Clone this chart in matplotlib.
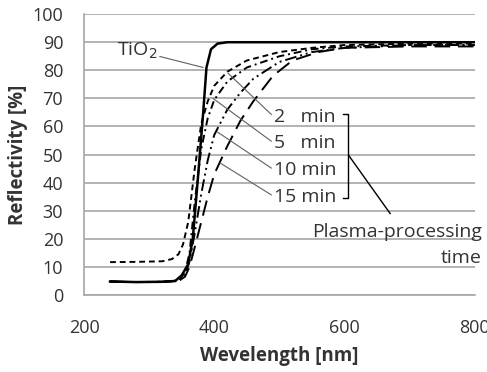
import matplotlib
matplotlib.use("Agg")
import matplotlib.pyplot as plt
import numpy as np

plt.rcParams['font.family'] = ['Open Sans', 'DejaVu Sans']

# reflectivity spectra
wl_tio2 = [240, 280, 320, 340, 350, 360, 367, 375, 383, 388, 395, 405, 420, 500, 600, 700, 800]
r_tio2 = [4.8, 4.6, 4.7, 5.0, 7.0, 11, 20, 42, 65, 81, 87.5, 89.5, 90, 90, 90, 90, 90]

wl_2 = [240, 280, 320, 335, 345, 352, 360, 370, 380, 390, 400, 420, 450, 500, 550, 600, 700, 800]
r_2 = [11.7, 11.8, 12, 12.8, 14.5, 18, 26, 45, 61, 69, 74.5, 79.5, 83.5, 86.5, 88, 89, 89.5, 89.5]

wl_5 = [240, 280, 320, 345, 355, 362, 370, 380, 390, 400, 420, 450, 500, 550, 600, 700, 800]
r_5 = [4.8, 4.6, 4.7, 5.2, 8, 15, 33, 52, 63, 69.5, 76, 81, 85, 87.5, 88.5, 89, 89]

wl_10 = [240, 280, 320, 345, 355, 362, 370, 380, 390, 400, 420, 440, 460, 500, 550, 600, 700, 800]
r_10 = [4.8, 4.6, 4.7, 5.0, 7, 12, 22, 36, 48, 57, 66, 72, 77, 83, 86.5, 88, 89, 89]

wl_15 = [240, 280, 320, 345, 355, 362, 370, 380, 390, 400, 420, 440, 460, 490, 520, 560, 600, 700, 800]
r_15 = [4.8, 4.6, 4.7, 5.0, 6.5, 10, 17, 26, 35, 43, 53, 62, 69, 78, 83.5, 86.5, 88, 88.5, 88.5]

labels = ["2   min", "5   min", "10 min", "15 min"]

txt = '#333333'
grid = '#a6a6a6'

fig = plt.figure(figsize=(4.87, 3.72), dpi=100)
ax = fig.add_axes([0.1725, 0.207, 0.8025, 0.755])

ax.plot(wl_tio2, r_tio2, color='black', lw=1.8, ls='-')
ax.plot(wl_2, r_2, color='black', lw=1.4, ls=(0, (3, 2)))
ax.plot(wl_5, r_5, color='black', lw=1.4, ls=(0, (4, 2, 1, 2)))
ax.plot(wl_10, r_10, color='black', lw=1.4, ls=(0, (6, 2, 1, 2, 1, 2)))
ax.plot(wl_15, r_15, color='black', lw=1.4, ls=(0, (8, 4)))

ax.set_xlim(200, 800)
ax.set_ylim(0, 100)
ax.set_xticks([200, 400, 600, 800])
ax.set_yticks(np.arange(0, 101, 10))
ax.yaxis.grid(True, color=grid, lw=1.2)
ax.set_axisbelow(True)
for s in ['top', 'right']:
    ax.spines[s].set_visible(False)
ax.spines['left'].set_color(grid)
ax.spines['bottom'].set_color(grid)
ax.spines['left'].set_linewidth(1.2)
ax.spines['bottom'].set_linewidth(1.2)
ax.tick_params(axis='y', length=0, labelsize=13, labelcolor=txt, pad=15)
ax.tick_params(axis='x', length=0, labelsize=13, labelcolor=txt, pad=17)

ax.set_xlabel("Wevelength [nm]", fontsize=13.5, fontweight='bold', color=txt, labelpad=7)
ax.set_ylabel("Reflectivity [%]", fontsize=13.5, fontweight='bold', color=txt, labelpad=3)

# annotations with leader lines
lc = '#606060'
ax.annotate("TiO$_2$", xy=(383, 81), xytext=(312, 87), fontsize=14, color=txt,
            ha='right', va='center',
            arrowprops=dict(arrowstyle='-', color=lc, lw=0.8, shrinkA=0, shrinkB=0))
targets = [(421, 79), (398, 70), (405, 58), (409, 47)]
ylab = [63.3, 54, 44.5, 35]
for lab, (tx, ty), yl in zip(labels, targets, ylab):
    ax.annotate(lab, xy=(tx, ty), xytext=(492, yl), fontsize=14, color=txt,
                ha='left', va='center',
                arrowprops=dict(arrowstyle='-', color=lc, lw=0.8, shrinkA=0, shrinkB=0,
                                relpos=(0, 0.5)))

# bracket
ax.plot([598, 606, 606, 598], [64.5, 64.5, 34.5, 34.5], color='black', lw=1.0)
ax.plot([607, 670], [49.5, 29], color='black', lw=1.0)
ax.text(811, 22.5, "Plasma-processing", fontsize=14, color=txt, ha='right', va='center')
ax.text(811, 13.3, "time", fontsize=14, color=txt, ha='right', va='center')

fig.savefig("out.png", dpi=100)
